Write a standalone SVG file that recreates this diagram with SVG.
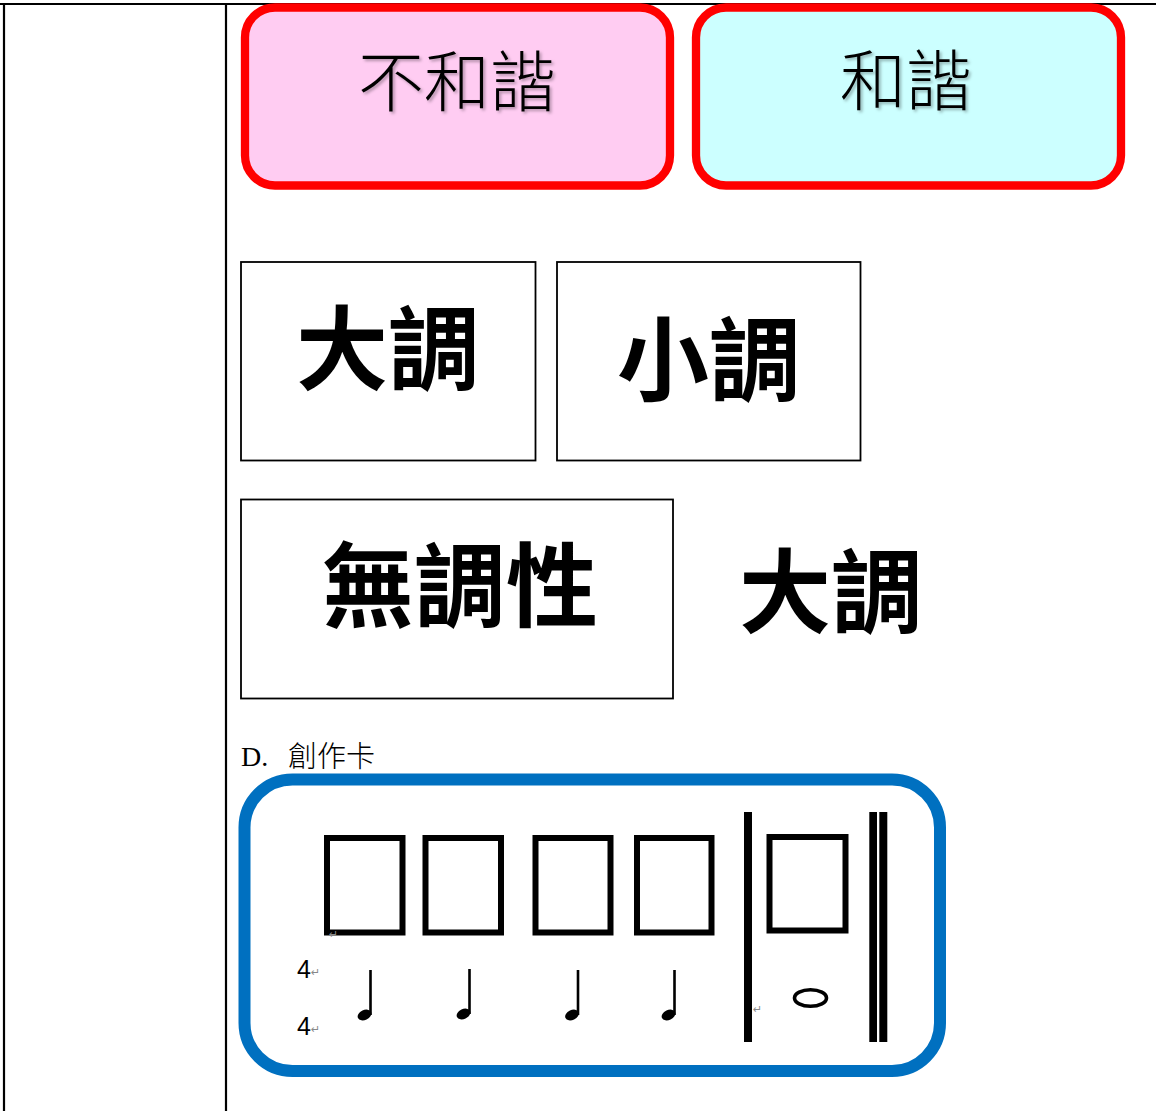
<svg xmlns="http://www.w3.org/2000/svg" width="1156" height="1111" viewBox="0 0 1156 1111">
<style>
.frame{stroke:#000;stroke-width:2.2;fill:none}
.tag{stroke:#FF0000;stroke-width:8.3}
.thin{font-family:"Noto Sans CJK TC","Noto Sans CJK SC",sans-serif;font-weight:300;fill:#000}
.card{fill:#fff;stroke:#000;stroke-width:1.8}
.bold{font-family:"Noto Sans CJK TC","Noto Sans CJK SC",sans-serif;font-weight:700;font-size:92px;fill:#000;text-anchor:middle}
.slot{fill:none;stroke:#000;stroke-width:6}
.bar{fill:#000}
.ret{font-family:"DejaVu Sans",sans-serif;font-size:11px;fill:#888}
.ts{font-family:"Liberation Sans",Arial,sans-serif;font-size:25px;fill:#000}
</style>
<defs>
<filter id="sh" x="-10%" y="-10%" width="130%" height="130%">
<feDropShadow dx="2" dy="2" stdDeviation="1.5" flood-color="#000" flood-opacity="0.3"/>
</filter>
<g id="qn">
<ellipse cx="-6" cy="45" rx="7.2" ry="4.9" transform="rotate(-25 -6 45)" fill="#000"/>
<rect x="-1.3" y="0" width="2.6" height="45" fill="#000"/>
</g>
</defs>

<g id="page-frame">
<line class="frame" x1="0" y1="4" x2="1156" y2="4"/>
<line class="frame" x1="4" y1="3" x2="4" y2="1111"/>
<line class="frame" x1="226" y1="3" x2="226" y2="1111"/>
</g>

<g id="dissonance">
<rect class="tag" x="245" y="7.5" width="425" height="178" rx="30" fill="#FFCCF2"/>
<text class="thin" x="457" y="106" font-size="66" text-anchor="middle" filter="url(#sh)">不和諧</text>
</g>

<g id="consonance">
<rect class="tag" x="696" y="7.5" width="425" height="178" rx="30" fill="#CCFFFF"/>
<text class="thin" x="906" y="105" font-size="66" text-anchor="middle" filter="url(#sh)">和諧</text>
</g>

<g id="major-card">
<rect class="card" x="241" y="262" width="294.5" height="198.5"/>
<text class="bold" x="388" y="383">大調</text>
</g>

<g id="minor-card">
<rect class="card" x="557" y="262" width="303.5" height="198.5"/>
<text class="bold" x="709" y="394">小調</text>
</g>

<g id="atonal-card">
<rect class="card" x="241" y="499.5" width="432" height="199"/>
<text class="bold" x="460" y="620">無調性</text>
</g>

<g id="major-free">
<text class="bold" x="831" y="626">大調</text>
</g>

<g id="section-d">
<text x="241" y="766" font-family="'Liberation Serif','Times New Roman',serif" font-size="28" fill="#000">D.</text>
<text class="thin" x="288" y="767" font-size="29">創作卡</text>
</g>

<g id="creation-card">
<rect x="244.5" y="779.5" width="695.5" height="291.5" rx="48" fill="#fff" stroke="#0070C0" stroke-width="12"/>
<rect class="slot" x="327" y="838" width="75.5" height="94.5"/>
<rect class="slot" x="425.5" y="838" width="75.5" height="94.5"/>
<rect class="slot" x="535.5" y="838" width="75" height="94.5"/>
<rect class="slot" x="637" y="838" width="74.5" height="94.5"/>
<rect class="slot" x="769.5" y="837" width="76" height="93.5"/>
<rect class="bar" x="744" y="812" width="8" height="230"/>
<rect class="bar" x="869.3" y="812" width="7.7" height="230"/>
<rect class="bar" x="879.3" y="812" width="8" height="230"/>
<text class="ts" x="297" y="978">4</text>
<text class="ts" x="297" y="1035">4</text>
<text class="ret" x="311" y="976">↵</text>
<text class="ret" x="311" y="1033">↵</text>
<text class="ret" x="329" y="938">↵</text>
<text class="ret" x="753" y="1013">↵</text>
<use href="#qn" x="370.5" y="970"/>
<use href="#qn" x="469.5" y="969"/>
<use href="#qn" x="578" y="970"/>
<use href="#qn" x="674.5" y="970"/>
<ellipse cx="810.5" cy="998" rx="16" ry="8.3" fill="none" stroke="#000" stroke-width="3.6"/>
</g>
</svg>
